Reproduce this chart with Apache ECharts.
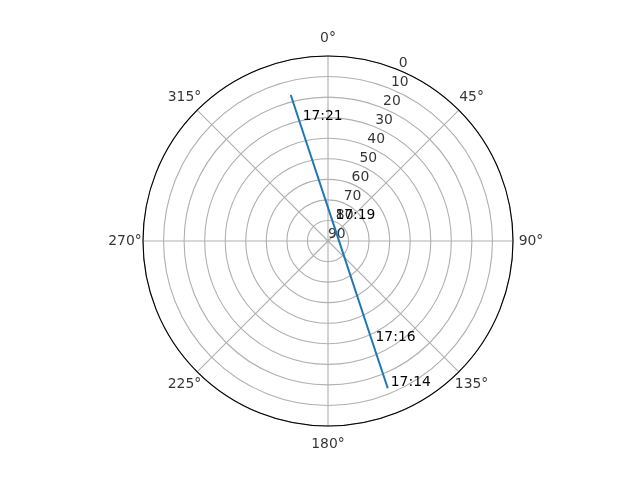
<!DOCTYPE html>
<html>
<head>
<meta charset="utf-8">
<script src="https://cdn.jsdelivr.net/npm/echarts@6/dist/echarts.min.js"></script>
<style>html,body{margin:0;padding:0;background:#fff}#c{width:640px;height:480px}</style>
</head>
<body>
<div id="c"></div>
<script>
// Satellite pass: elevation (deg) and azimuth (deg)
const trackElevation = [12.7, 36.1, 80.0, 30.5, 16.7];
const trackAzimuth   = [157.9, 156.3, 12.4, 346.6, 345.7];
const trackTimes     = ['17:14', '17:16', '17:19', '17:21', ''];
// Radial tick labels (elevation)
const radialTicks = [0, 10, 20, 30, 40, 50, 60, 70, 80, 90];
const radialLabelAngle = 22.5;
// Angular tick labels (azimuth)
const angleTicks = [0, 45, 90, 135, 180, 225, 270, 315];

const FONT = 'DejaVu Sans';
const TEXT = { color: '#000', fontFamily: FONT, fontSize: 13.9, textBorderWidth: 0, textBorderColor: 'transparent', textShadowBlur: 0 };
const chart = echarts.init(document.getElementById('c'), null, {renderer: 'canvas'});

chart.setOption({
  animation: false,
  backgroundColor: '#fff',
  polar: [
    { center: [328, 241], radius: 185 },
    { center: [328, 241], radius: 203 }
  ],
  angleAxis: [
    {
      polarIndex: 0,
      type: 'value', min: 0, max: 360, interval: 45,
      startAngle: 90, clockwise: true,
      axisLine: { show: true, lineStyle: { color: '#000', width: 1.1 } },
      axisTick: { show: false },
      axisLabel: { show: false },
      splitLine: { show: true, lineStyle: { color: '#b0b0b0', width: 1.1 } }
    },
    {
      polarIndex: 1,
      type: 'value', min: 0, max: 360, interval: 45,
      startAngle: 90, clockwise: true,
      axisLine: { show: false }, axisTick: { show: false },
      axisLabel: { show: false }, splitLine: { show: false }
    }
  ],
  radiusAxis: [
    {
      polarIndex: 0,
      type: 'value', min: 0, max: 90, interval: 10, inverse: true,
      axisLine: { show: false }, axisTick: { show: false }, axisLabel: { show: false },
      splitLine: { show: true, lineStyle: { color: '#b0b0b0', width: 1.1 } }
    },
    {
      polarIndex: 1,
      type: 'value', min: 0, max: 1,
      axisLine: { show: false }, axisTick: { show: false }, axisLabel: { show: false },
      splitLine: { show: false }
    }
  ],
  series: [
    {
      type: 'scatter', coordinateSystem: 'polar', polarIndex: 1, silent: true,
      symbolSize: 0, z: 3,
      itemStyle: { color: '#000' },
      data: angleTicks.map(a => [1, a]),
      label: Object.assign({
        show: true, position: 'inside', align: 'center', verticalAlign: 'middle',
        formatter: p => p.value[1] + '°'
      }, TEXT)
    },
    {
      type: 'scatter', coordinateSystem: 'polar', polarIndex: 0, silent: true,
      symbolSize: 0, z: 3,
      itemStyle: { color: '#000' },
      data: radialTicks.map(v => [v, radialLabelAngle]),
      label: Object.assign({
        show: true, position: [0, 0], align: 'left', verticalAlign: 'bottom',
        formatter: p => String(p.value[0])
      }, TEXT)
    },
    {
      type: 'line', coordinateSystem: 'polar', polarIndex: 0, silent: true,
      data: trackElevation.map((e, i) => [e, trackAzimuth[i]]),
      showSymbol: true, symbol: 'circle', symbolSize: 0,
      lineStyle: { color: '#1f77b4', width: 2 },
      itemStyle: { color: '#1f77b4' },
      label: Object.assign({
        show: true, position: 'right', distance: 3, offset: [0, -5.5],
        formatter: p => trackTimes[p.dataIndex]
      }, TEXT),
      z: 4
    }
  ]
});
</script>
</body>
</html>
